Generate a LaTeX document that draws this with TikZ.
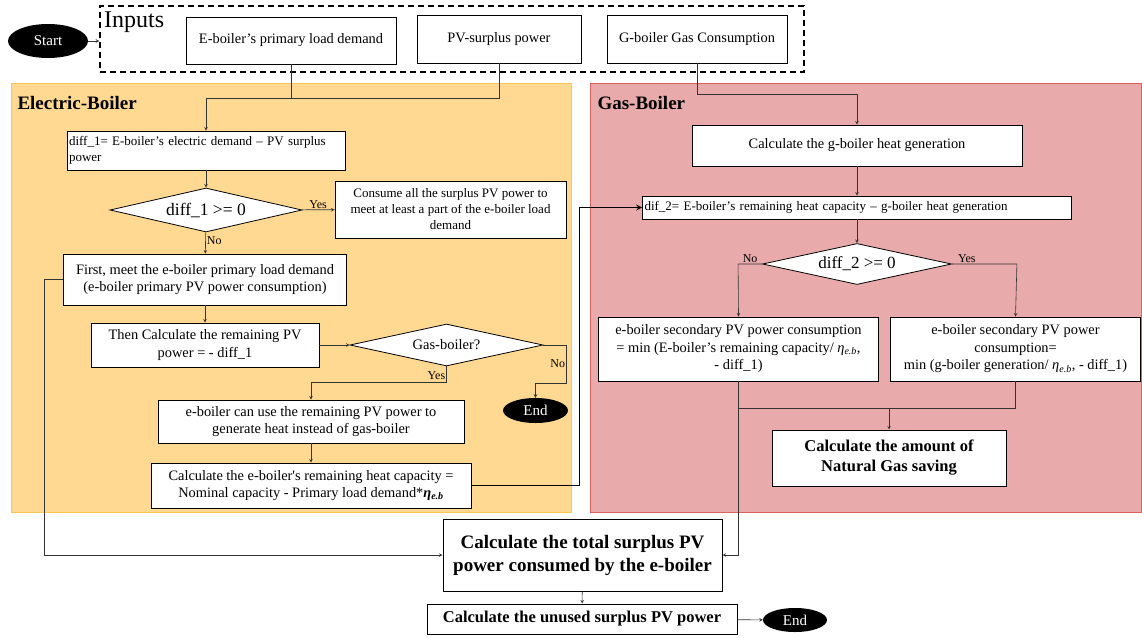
\documentclass[tikz,border=0pt]{standalone}
\usepackage{fontspec}
\setmainfont{Liberation Serif}
\usetikzlibrary{shapes.geometric}

\definecolor{eboilerfill}{RGB}{255,217,145}
\definecolor{eboilerline}{RGB}{250,200,80}
\definecolor{gboilerfill}{RGB}{232,170,170}
\definecolor{gboilerline}{RGB}{224,96,96}

\newcommand{\etaeb}{{\itshape η}\textsubscript{\itshape e.b}}

\tikzstyle{process} = [rectangle, draw=black, fill=white, line width=0.8pt, align=center, inner sep=2pt, font=\fontsize{14.4}{17.5}\selectfont]
\tikzstyle{smallprocess} = [process, font=\fontsize{13}{16}\selectfont]
\tikzstyle{bigprocess} = [process, line width=1pt, font=\fontsize{16.5}{20}\selectfont\bfseries]
\tikzstyle{decision} = [diamond, draw=black, fill=white, line width=0.8pt, inner sep=0pt, aspect=4.4, font=\fontsize{17.5}{19}\selectfont]
\tikzstyle{terminal} = [ellipse, fill=black, text=white, inner sep=0pt, font=\fontsize{15}{17}\selectfont]
\tikzstyle{line} = [draw=black!80, line width=0.6pt]
\tikzstyle{arrow} = [line, ->, >=stealth]
\tikzstyle{thickarrow} = [draw=black, line width=1.6pt, ->, >=stealth]
\tikzstyle{choice} = [font=\fontsize{12}{14}\selectfont, inner sep=1pt]

\begin{document}
\begin{tikzpicture}[x=1pt, y=-1pt]
		\useasboundingbox (0,0) rectangle (1142,637);
		% Regions
		\draw[fill=eboilerfill, draw=eboilerline, line width=0.8pt] (11,83) rectangle (571,512);
		\draw[fill=gboilerfill, draw=gboilerline, line width=0.8pt] (590,83) rectangle (1141,512);
		\node[anchor=west, font=\fontsize{19}{21}\selectfont\bfseries] at (14,103) {Electric-Boiler};
		\node[anchor=west, font=\fontsize{19}{21}\selectfont\bfseries] at (594,103) {Gas-Boiler};
		% Inputs
		\node (start) [terminal, minimum width=80, minimum height=34] at (48,41) {Start};
		\node (inputs) [draw=black, line width=1.5pt, dash pattern=on 6pt off 4pt, minimum width=704, minimum height=66] at (452,39) {};
		\node[anchor=west, font=\fontsize{24}{26}\selectfont, inner sep=0pt] at (104,22) {Inputs};
		\node (eload) [process, minimum width=210, minimum height=47] at (291,40.5) {E-boiler's primary load demand};
		\node (pvsurplus) [process, minimum width=164, minimum height=48] at (499,39) {PV-surplus power};
		\node (gascons) [process, minimum width=180, minimum height=48] at (697,39) {G-boiler Gas Consumption};
		% Electric-Boiler nodes
		\node (diff1) [smallprocess, text width=274, align=left, minimum height=39] at (206,150.5) {diff\_1= E-boiler's electric demand -- PV surplus\\power};
		\node (dec1) [decision, minimum width=192, minimum height=44] at (206,210) {diff\_1 >= 0};
		\node (consume) [smallprocess, minimum width=231, minimum height=57] at (450.5,209.5) {Consume all the surplus PV power to\\meet at least a part of the e-boiler load\\demand};
		\node (first) [process, minimum width=283, minimum height=51] at (205,279.5) {First, meet the e-boiler primary load demand\\(e-boiler primary PV power consumption)};
		\node (then) [process, minimum width=228, minimum height=44] at (205,345) {Then Calculate the remaining PV\\power = - diff\_1};
		\node (dec2) [decision, minimum width=193, minimum height=42, font=\fontsize{14.5}{16}\selectfont] at (446.5,345) {Gas-boiler?};
		\node (end1) [terminal, minimum width=65, minimum height=25] at (535.5,410.5) {End};
		\node (canuse) [process, minimum width=306, minimum height=43] at (311,421.5) {e-boiler can use the remaining PV power to\\generate heat instead of gas-boiler};
		\node (remain) [process, minimum width=320, minimum height=45] at (311,485.5) {Calculate the e-boiler\textquotesingle s remaining heat capacity =\\Nominal capacity - Primary load demand*{\bfseries\etaeb}};
		% Gas-Boiler nodes
		\node (heatgen) [process, minimum width=330, minimum height=41] at (857,145.5) {Calculate the g-boiler heat generation};
		\node (dif2) [smallprocess, text width=425, align=left, minimum height=23] at (857,207.5) {dif\_2= E-boiler's remaining heat capacity -- g-boiler heat generation};
		\node (dec3) [decision, minimum width=189, minimum height=41, font=\fontsize{17}{19}\selectfont] at (857,264) {diff\_2 >= 0};
		\node (secleft) [process, minimum width=280, minimum height=64] at (738.5,349) {e-boiler secondary PV power consumption\\= min (E-boiler's remaining capacity/ \etaeb,\\- diff\_1)};
		\node (secright) [process, minimum width=250, minimum height=64] at (1015.5,349) {e-boiler secondary PV power\\consumption=\\min (g-boiler generation/ \etaeb, - diff\_1)};
		\node (natgas) [bigprocess, minimum width=234, minimum height=56] at (889,458) {Calculate the amount of\\Natural Gas saving};
		% Totals
		\node (total) [bigprocess, minimum width=279, minimum height=72, font=\fontsize{19}{23}\selectfont\bfseries] at (582.5,555) {Calculate the total surplus PV\\power consumed by the e-boiler};
		\node (unused) [bigprocess, minimum width=310, minimum height=30] at (582,619) {Calculate the unused surplus PV power};
		\node (end2) [terminal, minimum width=64, minimum height=24] at (795,620) {End};
		% Arrows
		\draw [arrow] (start.east) -- (start.east -| inputs.west);
		\coordinate (ejoin) at (206,98);
		\draw [line] (eload.south) |- (ejoin);
		\draw [line] (pvsurplus.south) |- (ejoin);
		\draw [arrow] (ejoin) -- (diff1.north);
		\draw [arrow] (gascons.south) -- ++(0,31) -| (heatgen.north);
		\draw [arrow] (diff1) -- (dec1);
		\draw [arrow] (dec1) -- node[choice, above] {Yes} (consume);
		\draw [arrow] (dec1) -- node[choice, right, pos=0.4] {No} (first);
		\draw [arrow] (first.west) -- ++(-19,0) |- (total.west);
		\draw [arrow] (first) -- (then);
		\draw [arrow] (then) -- (dec2);
		\draw [arrow] (dec2.east) -- ++(23,0) -- node[choice, left] {No} ++(0,38) -| (end1.north);
		\draw [arrow] (dec2.south) -- node[choice, left, pos=0.6] {Yes} ++(0,16) -| (canuse.north);
		\draw [arrow] (canuse) -- (remain);
		\draw [thickarrow] (remain.east) -- ++(108,0) |- (dif2.west);
		\draw [arrow] (heatgen) -- (dif2);
		\draw [arrow] (dif2) -- (dec3);
		\draw [arrow] (dec3.west) -- node[choice, above, pos=0.5] {No} ++(-24,0) -- (secleft.north);
		\draw [arrow] (dec3.east) -- node[choice, above, pos=0.23] {Yes} ++(65,0) -- (secright.north);
		\draw [line] (secleft.south) -- ++(0,27) coordinate (njoin) -| (secright.south);
		\draw [arrow] (njoin -| natgas.north) -- (natgas.north);
		\draw [arrow] (njoin) |- (total.east);
		\draw [arrow] (total) -- (unused);
		\draw [arrow] (unused) -- (end2);
	\end{tikzpicture}
\end{document}
